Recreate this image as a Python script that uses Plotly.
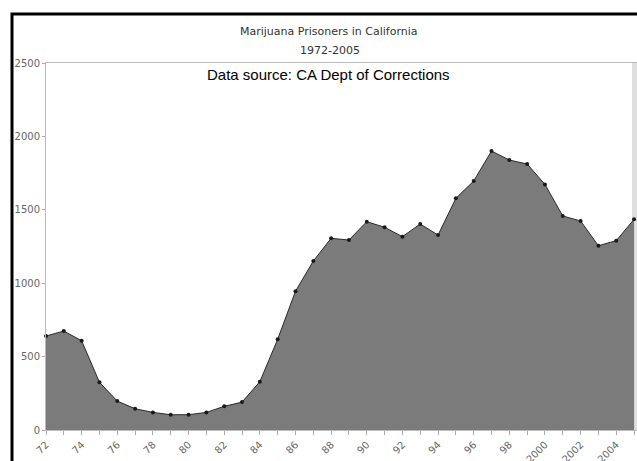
import plotly.graph_objects as go

years = list(range(1972, 2006))
prisoners = [640, 674, 608, 325, 197, 145, 120, 104, 104, 120, 161, 190, 329, 618,
             945, 1151, 1306, 1294, 1419, 1381, 1317, 1403, 1328, 1578, 1696, 1900,
             1839, 1812, 1673, 1458, 1424, 1255, 1290, 1435]
tick_years = list(range(1972, 2005, 2))
tick_labels = ["72", "74", "76", "78", "80", "82", "84", "86", "88", "90", "92", "94",
               "96", "98", "2000", "2002", "2004"]
y_ticks = [0, 500, 1000, 1500, 2000, 2500]

fig = go.Figure()
fig.add_trace(go.Scatter(
    x=years, y=prisoners, mode="lines+markers", fill="tozeroy",
    fillcolor="#7b7b7b", line=dict(color="#2a2a2a", width=1),
    marker=dict(size=4, color="#1a1a1a"), hoverinfo="x+y", showlegend=False,
    cliponaxis=False,
))

W, H = 637, 461
L, R, T, B = 46, 0, 63, 31
pw, ph = W - L - R, H - T - B

def px(x):
    return (x - L) / pw

def py(y):
    return (H - B - y) / ph

fig.update_layout(
    width=W, height=H,
    margin=dict(l=L, r=R, t=T, b=B, autoexpand=False),
    paper_bgcolor="white", plot_bgcolor="white",
    font=dict(family="DejaVu Sans", color="#555555", size=10),
    xaxis=dict(range=[1972, 1972 + 591 / 17.82], tickvals=tick_years, ticktext=tick_labels,
               tickangle=-45, ticks="outside", ticklen=4, tickcolor="#aaaaaa",
               showline=True, linecolor="#bbbbbb", linewidth=1, mirror=True,
               showgrid=False, zeroline=False, automargin=False,
               minor=dict(dtick=1, ticks="outside", ticklen=4, tickcolor="#aaaaaa"),
               tickfont=dict(size=10, color="#666666")),
    yaxis=dict(range=[0, 2500], tickvals=y_ticks, ticks="outside", ticklen=3,
               tickcolor="#aaaaaa", showline=True, linecolor="#bbbbbb", linewidth=1,
               showgrid=False, zeroline=False, automargin=False,
               tickfont=dict(size=10, color="#666666")),
    annotations=[
        dict(text="Marijuana Prisoners in California", x=px(329), y=py(31),
             xref="paper", yref="paper", showarrow=False, xanchor="center", yanchor="middle",
             font=dict(family="DejaVu Sans", size=11, color="#333333")),
        dict(text="1972-2005", x=px(330), y=py(50),
             xref="paper", yref="paper", showarrow=False, xanchor="center", yanchor="middle",
             font=dict(family="DejaVu Sans", size=11, color="#333333")),
        dict(text="Data source: CA Dept of Corrections", x=px(328.5), y=py(74),
             xref="paper", yref="paper", showarrow=False, xanchor="center", yanchor="middle",
             font=dict(family="Liberation Sans", size=15, color="#000000")),
    ],
    shapes=[
        dict(type="rect", xref="paper", yref="paper",
             x0=px(12), x1=px(700), y0=py(520), y1=py(14),
             line=dict(color="#000000", width=3), fillcolor="rgba(0,0,0,0)", layer="above"),
        dict(type="rect", xref="paper", yref="paper",
             x0=px(632), x1=px(640), y0=py(430), y1=py(63),
             line=dict(width=0), fillcolor="#dedede", layer="below"),
    ],
)

fig.write_html(
    "out.html",
    config={"displayModeBar": False},
    post_script="document.body.style.margin='0';document.body.style.overflow='hidden';",
)
